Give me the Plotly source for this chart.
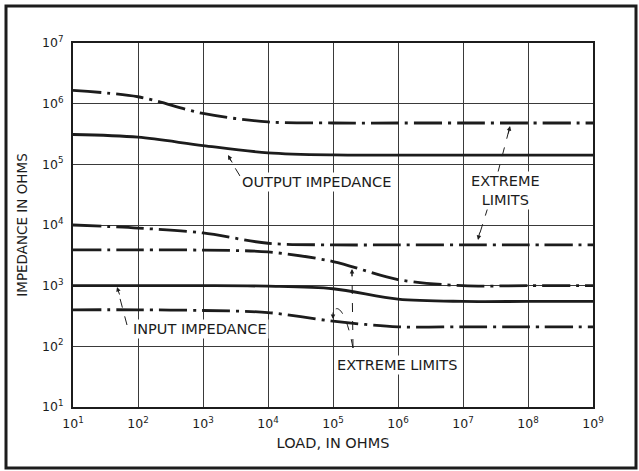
import plotly.graph_objects as go

# ---- data ----
load_ohms = [1e1, 1e2, 1e3, 1e4, 1e5, 1e6, 1e7, 1e8, 1e9]
output_upper_limit = [1.65e6, 1.3e6, 6.9e5, 5.0e5, 4.8e5, 4.8e5, 4.8e5, 4.8e5, 4.8e5]
output_impedance = [3.1e5, 2.8e5, 2.04e5, 1.55e5, 1.43e5, 1.42e5, 1.42e5, 1.42e5, 1.42e5]
input_upper_limit_a = [1.0e4, 8.9e3, 7.4e3, 5.0e3, 4.7e3, 4.7e3, 4.7e3, 4.7e3, 4.7e3]
input_upper_limit_b = [3.9e3, 3.9e3, 3.85e3, 3.6e3, 2.5e3, 1.26e3, 1.0e3, 1.0e3, 1.0e3]
input_impedance = [1.0e3, 1.0e3, 1.0e3, 9.8e2, 8.9e2, 6.0e2, 5.5e2, 5.5e2, 5.5e2]
input_lower_limit = [4.0e2, 4.0e2, 3.9e2, 3.6e2, 2.6e2, 2.1e2, 2.1e2, 2.1e2, 2.1e2]

x_tickvals = [1e1, 1e2, 1e3, 1e4, 1e5, 1e6, 1e7, 1e8, 1e9]
x_ticktext = ["10<sup>1</sup>", "10<sup>2</sup>", "10<sup>3</sup>", "10<sup>4</sup>", "10<sup>5</sup>",
              "10<sup>6</sup>", "10<sup>7</sup>", "10<sup>8</sup>", "10<sup>9</sup>"]
y_tickvals = [1e1, 1e2, 1e3, 1e4, 1e5, 1e6, 1e7]
y_ticktext = ["10<sup>1</sup>", "10<sup>2</sup>", "10<sup>3</sup>", "10<sup>4</sup>", "10<sup>5</sup>",
              "10<sup>6</sup>", "10<sup>7</sup>"]

# ---- layout geometry ----
W, H = 639, 471
L, R, T, B = 73, 46, 43, 64
PW, PH = W - L - R, H - T - B
INK = "#1c1c1c"
FONT = "DejaVu Sans, Liberation Sans, sans-serif"
DASHDOT = "28px,6px,3px,6px"


def px(x):
    return (x - L) / PW


def py(y):
    return (T + PH - y) / PH


fig = go.Figure()

series = [
    (output_upper_limit, DASHDOT),
    (output_impedance, "solid"),
    (input_upper_limit_a, DASHDOT),
    (input_upper_limit_b, DASHDOT),
    (input_impedance, "solid"),
    (input_lower_limit, DASHDOT),
]
for vals, dash in series:
    fig.add_trace(go.Scatter(
        x=load_ohms, y=vals, mode="lines",
        line=dict(color=INK, width=2.8, dash=dash, shape="spline", smoothing=0.9),
        showlegend=False, hoverinfo="skip",
    ))

shapes = []
# outer frame
shapes.append(dict(type="rect", xref="paper", yref="paper",
                   x0=px(6), x1=px(636), y0=py(468), y1=py(6),
                   line=dict(color=INK, width=3)))


def leader(x0, y0, x1, y1):
    shapes.append(dict(type="line", xref="paper", yref="paper",
                       x0=px(x0), y0=py(y0), x1=px(x1), y1=py(y1),
                       line=dict(color=INK, width=1, dash="dash")))


leader(240, 176, 229, 158)
leader(509, 130, 498, 172)
leader(488, 207, 479, 236)
leader(127, 325, 118, 291)
leader(353, 348, 352, 273)
shapes.append(dict(type="path", xref="paper", yref="paper",
                   path="M %f,%f C %f,%f %f,%f %f,%f" % (
                       px(353), py(348), px(344), py(300), px(333), py(305), px(333), py(316)),
                   line=dict(color=INK, width=1, dash="dash")))

annotations = []


def head(x, y, ax, ay):
    annotations.append(dict(xref="paper", yref="paper", x=px(x), y=py(y), text="",
                            showarrow=True, arrowhead=2, arrowsize=0.9, arrowwidth=1,
                            arrowcolor=INK, ax=ax, ay=ay, standoff=0))


head(228, 155, 5, 9)
head(510, 126, -2, 9)
head(478, 240, 2, -9)
head(117, 287, 3, 9)
head(352, 269, 0, 9)
head(333, 319, 0, -8)


def label(text, x, y, xanchor="left", align="left"):
    annotations.append(dict(xref="paper", yref="paper", x=px(x), y=py(y), text=text,
                            showarrow=False, xanchor=xanchor, yanchor="middle", align=align,
                            font=dict(family=FONT, size=14.5, color=INK),
                            bgcolor="white", borderpad=1))


label("OUTPUT IMPEDANCE", 240, 182)
label("EXTREME<br>LIMITS", 505, 190, xanchor="center", align="center")
label("INPUT IMPEDANCE", 131, 329)
label("EXTREME LIMITS", 335, 365)

axis_common = dict(
    type="log", showline=True, mirror=True, linewidth=2, linecolor=INK,
    showgrid=True, gridcolor="#3a3a3a", gridwidth=1, zeroline=False,
    ticks="", tickfont=dict(family=FONT, size=12.5, color=INK),
)

fig.update_layout(
    width=W, height=H,
    margin=dict(l=L, r=R, t=T, b=B, pad=0),
    paper_bgcolor="white", plot_bgcolor="white",
    xaxis=dict(axis_common, range=[1, 9], tickvals=x_tickvals, ticktext=x_ticktext,
               ticklabelstandoff=4,
               title=dict(text="LOAD, IN OHMS", standoff=8,
                          font=dict(family=FONT, size=14.5, color=INK))),
    yaxis=dict(axis_common, range=[1, 7], tickvals=y_tickvals, ticktext=y_ticktext,
               ticklabelstandoff=5,
               title=dict(text="IMPEDANCE IN OHMS", standoff=11,
                          font=dict(family=FONT, size=13.5, color=INK))),
    shapes=shapes,
    annotations=annotations,
)

fig.write_html("out.html", config={"displayModeBar": False},
               post_script="document.body.style.margin='0';document.body.style.padding='0';")
